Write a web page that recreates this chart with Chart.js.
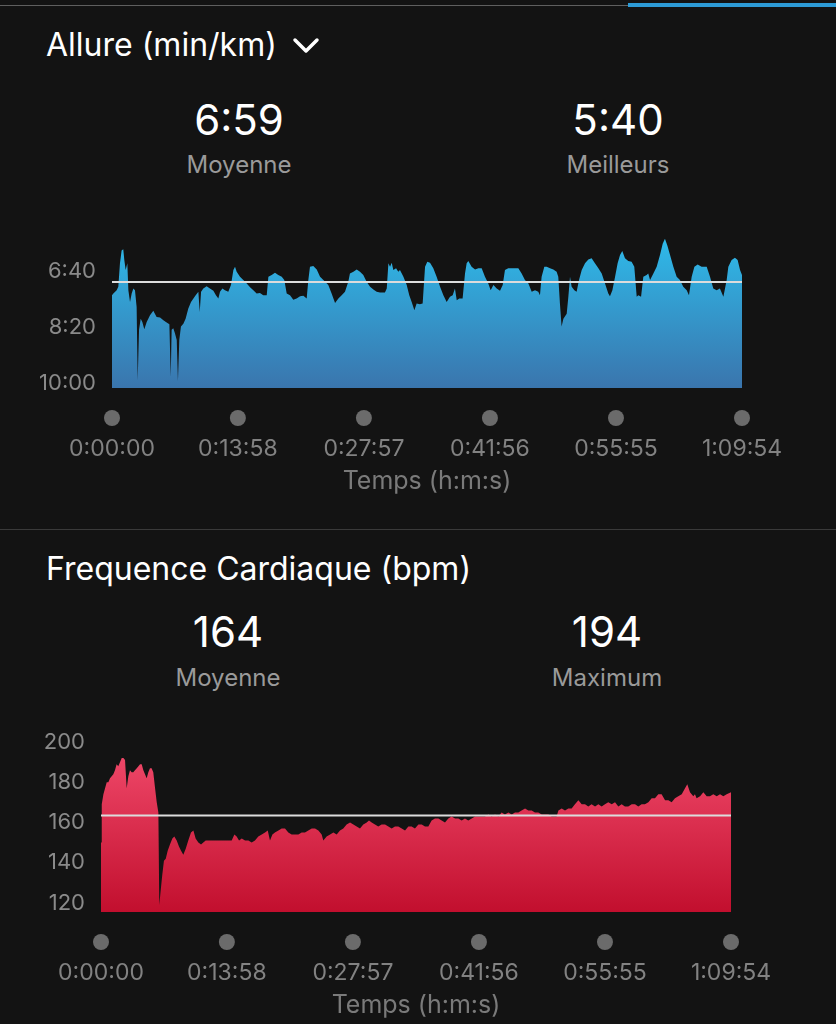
<!DOCTYPE html>
<html lang="fr">
<head>
<meta charset="utf-8">
<script src="https://cdn.jsdelivr.net/npm/chart.js@4.4.1/dist/chart.umd.min.js"></script>
<style>
  html, body { margin: 0; padding: 0; background: #131313; }
  body { width: 836px; height: 1024px; position: relative; overflow: hidden; font-family: Inter, "Noto Sans", sans-serif; color: #fff; }
  .abs { position: absolute; line-height: 1; white-space: nowrap; }
  .title { left: 46px; font-size: 32px; }
  .big { font-size: 42px; transform: translateX(-50%); }
  .sub { font-size: 24px; color: #9a9a9a; transform: translateX(-50%); }
  canvas { position: absolute; left: 0; }
</style>
</head>
<body>
<div class="abs" style="top:5px;left:0;width:836px;height:1px;background:#5f5f5f"></div>
<div class="abs" style="top:3px;left:628px;width:208px;height:4px;background:#2d9bd6"></div>

<div class="abs title" style="top:29px">Allure (min/km)</div>
<svg class="abs" style="left:292px;top:37px" width="28" height="18"><polyline points="3,3 14,14 25,3" fill="none" stroke="#fff" stroke-width="3.5" stroke-linecap="round" stroke-linejoin="round"/></svg>
<div class="abs big" style="left:239px;top:99px">6:59</div>
<div class="abs sub" style="left:239px;top:153px">Moyenne</div>
<div class="abs big" style="left:618px;top:99px">5:40</div>
<div class="abs sub" style="left:618px;top:153px">Meilleurs</div>
<canvas id="paceChart" width="836" height="304" style="top:192px"></canvas>

<div class="abs" style="top:529px;left:0;width:836px;height:1px;background:#3a3a3a"></div>

<div class="abs title" style="top:553px">Frequence Cardiaque (bpm)</div>
<div class="abs big" style="left:228px;top:611px">164</div>
<div class="abs sub" style="left:228px;top:666px">Moyenne</div>
<div class="abs big" style="left:607px;top:611px">194</div>
<div class="abs sub" style="left:607px;top:666px">Maximum</div>
<canvas id="hrChart" width="836" height="318" style="top:702px"></canvas>

<script>
// time axis (seconds)
const timeTicks = [0, 838, 1677, 2516, 3355, 4194];
const timeLabels = ['0:00:00', '0:13:58', '0:27:57', '0:41:56', '0:55:55', '1:09:54'];

// pace (seconds per km)
const paceTicks = [400, 500, 600];
const paceAvg = 419.6;
const paceTime = [0,9,31,42,53,64,75,82,91,102,109,120,131,142,153,164,171,180,191,202,215,231,253,275,297,320,342,364,382,391,397,408,419,431,439,448,459,475,490,508,526,542,557,575,584,593,608,630,652,675,692,708,719,735,752,774,792,808,819,830,852,874,897,919,941,963,985,1007,1030,1041,1063,1085,1107,1130,1147,1163,1185,1207,1229,1252,1274,1296,1307,1318,1340,1363,1385,
  1407,1440,1462,1485,1507,1529,1551,1573,1584,1607,1629,1651,1673,1695,1718,1740,1762,1784,1817,1829,1840,1851,1862,1873,1891,1906,1917,1940,1962,1979,1995,2013,2028,2050,2068,2084,2099,2117,2139,2161,2184,2206,2228,2250,2268,2283,2295,2312,2334,2350,2361,2372,2394,2417,2439,2461,2483,2505,2521,2539,2561,2583,2601,2616,2638,2672,2705,2727,2749,2772,2794,2816,2838,
  2849,2860,2878,2894,2916,2938,2960,2971,2982,2993,3005,3027,3038,3049,3060,3078,3093,3109,3127,3149,3171,3193,3215,3238,3260,3282,3304,3315,3331,3349,3366,3382,3397,3415,3437,3459,3477,3493,3504,3522,3537,3559,3570,3582,3604,3626,3648,3666,3681,3697,3715,3737,3759,3781,3803,3826,3841,3859,3877,3899,3925,3959,3981,4003,4025,4047,4070,4092,4103,4125,4147,4165,4181,4194];
const paceValue = [443,440,434,428,386,363,361,380,398,386,434,455,440,431,434,464,595,505,485,491,504,491,479,471,482,483,488,492,495,589,505,502,511,523,596,523,499,494,485,467,455,449,443,437,473,437,431,427,431,435,443,449,437,431,434,437,425,398,392,401,410,416,422,429,434,440,439,443,443,410,407,403,407,410,416,440,443,451,449,445,444,449,416,392,391,397,410,
  416,425,440,457,449,443,437,419,404,401,397,401,407,419,428,433,437,438,438,431,386,392,385,398,395,401,398,410,425,443,455,470,458,459,458,392,383,385,395,410,428,443,455,446,443,431,452,449,449,404,386,382,392,397,395,395,410,422,434,425,431,435,425,398,395,395,395,404,416,422,437,434,437,
  443,410,392,392,395,397,401,410,458,499,485,476,446,410,428,434,437,416,398,386,379,377,386,395,404,422,440,445,434,410,386,371,364,377,382,383,392,446,443,446,410,407,404,416,404,392,371,351,342,354,371,392,410,416,428,434,443,410,392,388,392,392,410,431,434,431,446,416,392,380,376,380,398,407];

// heart rate (bpm)
const hrTicks = [120, 140, 160, 180, 200];
const hrAvg = 163.5;
const hrTime = [0,5,16,27,38,49,60,71,82,93,104,115,127,138,149,160,171,182,193,204,215,226,238,249,260,271,282,293,304,315,326,337,348,360,371,382,388,397,408,419,431,444,459,475,488,504,519,533,548,564,581,599,615,630,648,666,681,697,715,737,759,781,803,826,848,870,888,903,919,937,959,981,1003,1025,1047,1070,1092,1110,1125,1141,1158,1181,1203,1225,1247,1269,1292,1314,1336,1358,1380,1403,1425,1447,1469,1480,1502,1525,1547,1569,1591,1613,1635,1658,1680,1702,1724,1746,1769,1784,1802,1824,1846,1868,1891,1913,1935,1957,1979,2002,2024,2046,2068,2090,
  2113,2135,2157,2179,2201,2223,2246,2268,2290,2312,2334,2357,2379,2401,2423,2445,2468,2490,2512,2534,2556,2579,2601,2623,2645,2667,2689,2712,2734,2756,2778,2800,2823,2845,2867,2889,2911,2934,2956,2978,3000,3022,3033,3045,3067,3089,3111,3133,3155,3178,3189,3200,3222,3244,3266,3289,3311,3333,3355,3377,3400,3422,3444,3466,3488,3510,3533,3555,3577,3599,3621,3644,3666,3688,3710,3732,3755,3777,3799,3821,3843,3866,3888,3903,3921,3943,3954,3965,3988,4010,4032,4054,4076,4099,4121,4143,4165,4194];
const hrValue = [150,169,174,177,180,180,182,183,184,186,189,188,190,192,192,191,177,183,186,185,185,186,187,188,189,189,186,184,182,185,187,187,185,177,170,165,119,126,134,141,142,146,149,152,153,151,148,146,144,147,151,155,156,152,150,149,150,151,151,151,151,151,151,151,151,151,154,153,151,152,151,151,150,151,153,154,155,156,151,154,155,156,157,157,155,154,154,154,155,155,156,157,157,156,154,151,153,154,155,154,156,157,159,160,159,158,157,159,160,161,160,159,158,159,159,158,157,158,158,157,156,158,158,157,
  159,159,158,158,161,162,162,161,160,162,163,162,162,161,162,161,162,163,163,163,163,164,163,164,163,165,164,165,164,165,165,166,167,166,166,165,165,164,164,164,163,163,163,166,167,166,167,167,169,171,170,169,169,168,169,168,169,168,169,170,169,170,168,169,168,168,169,169,168,169,169,170,172,172,174,174,171,171,170,172,173,174,177,179,175,173,174,172,173,175,173,173,174,173,174,173,174,175];

Chart.defaults.font.family = 'Inter, "Noto Sans", sans-serif';

const dotsPlugin = {
  id: 'dots',
  afterDraw(chart) {
    const ctx = chart.ctx, xs = chart.scales.x, y0 = chart.chartArea.bottom + 30;
    ctx.save();
    ctx.fillStyle = '#6b6b6b';
    xs.ticks.forEach(t => {
      ctx.beginPath();
      ctx.arc(xs.getPixelForValue(t.value), y0, 8, 0, Math.PI * 2);
      ctx.fill();
    });
    ctx.restore();
  }
};

function buildChart(id, times, values, avg, cfg) {
  const points = times.map((t, i) => ({ x: t, y: values[i] }));
  return new Chart(document.getElementById(id), {
    type: 'line',
    data: {
      datasets: [
        {
          order: 2,
          data: points, borderWidth: 0, pointRadius: 0, fill: 'start', tension: 0,
          backgroundColor: ctx => {
            const a = ctx.chart.chartArea;
            if (!a) return cfg.top;
            const g = ctx.chart.ctx.createLinearGradient(0, a.top, 0, a.bottom);
            g.addColorStop(0, cfg.top);
            g.addColorStop(1, cfg.bottom);
            return g;
          }
        },
        {
          order: 1,
          data: [{ x: times[0], y: avg }, { x: times[times.length - 1], y: avg }],
          borderColor: '#dcdcdc', borderWidth: 2, pointRadius: 0, fill: false
        }
      ]
    },
    options: {
      responsive: false,
      animation: false,
      events: [],
      layout: { padding: { top: 40, right: cfg.right, bottom: 0, left: 0 } },
      plugins: { legend: { display: false }, tooltip: { enabled: false } },
      scales: {
        x: {
          type: 'linear', min: 0, max: 4194,
          grid: { display: false, drawTicks: false }, border: { display: false },
          afterBuildTicks: s => { s.ticks = timeTicks.map(v => ({ value: v })); },
          afterFit: s => { s.height = 108; },
          ticks: { padding: 47, color: '#828282', font: { size: 23 }, maxRotation: 0, autoSkip: false,
                   callback: (v, i) => timeLabels[i] },
          title: { display: true, text: 'Temps (h:m:s)', color: '#7a7a7a', font: { size: 25 }, padding: 0 }
        },
        y: {
          type: 'linear', min: cfg.min, max: cfg.max, reverse: cfg.reverse,
          grid: { display: false, drawTicks: false }, border: { display: false },
          afterBuildTicks: s => { s.ticks = cfg.ticks.map(v => ({ value: v })); },
          afterFit: s => { s.width = cfg.left; },
          ticks: { padding: 16, color: '#8a8a8a', font: { size: 22 }, callback: cfg.format }
        }
      }
    },
    plugins: [dotsPlugin]
  });
}

function fmtPace(v) {
  return Math.floor(v / 60) + ':' + String(v % 60).padStart(2, '0');
}

buildChart('paceChart', paceTime, paceValue, paceAvg, {
  min: 330, max: 609, reverse: true, ticks: paceTicks, format: fmtPace,
  left: 112, right: 94, top: '#2ebdec', bottom: '#3a75ad'
});

buildChart('hrChart', hrTime, hrValue, hrAvg, {
  min: 115.5, max: 200, reverse: false, ticks: hrTicks, format: v => String(v),
  left: 101, right: 105, top: '#f24c6d', bottom: '#c20f2e'
});
</script>
</body>
</html>
